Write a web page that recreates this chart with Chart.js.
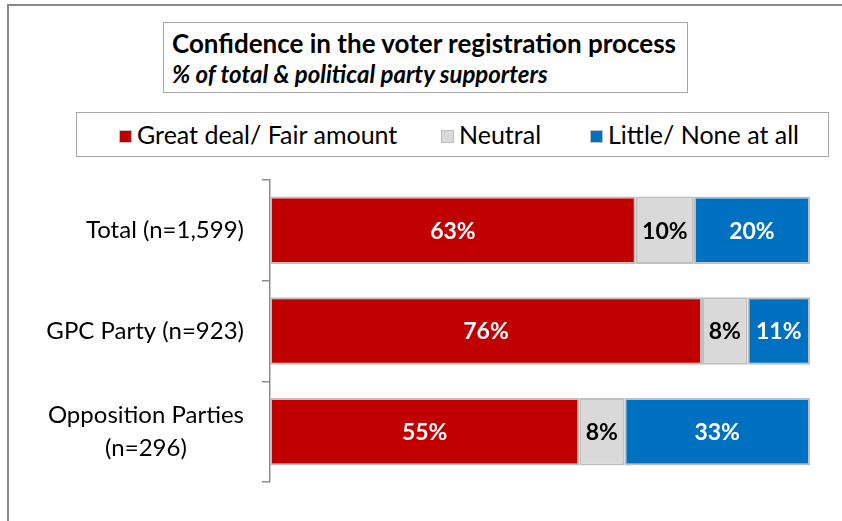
<!DOCTYPE html>
<html>
<head>
<meta charset="utf-8">
<script src="https://cdn.jsdelivr.net/npm/chart.js@4.4.0/dist/chart.umd.min.js"></script>
<style>
  body { margin: 0; background: #fff; font-family: Lato, sans-serif; }
  #wrap { position: relative; width: 842px; height: 521px; overflow: hidden; }
  #frame { position: absolute; left: 7px; top: 4px; width: 900px; height: 600px;
           border-left: 2px solid #888; border-top: 2px solid #888; }
  #titleBox { position: absolute; left: 163px; top: 22px; width: 525px; height: 71px;
              border: 1.5px solid #a6a6a6; box-sizing: border-box; padding: 5px 0 0 8px; }
  #titleBox .t { font-weight: bold; font-size: 26px; line-height: 31px; color: #000; white-space: nowrap; }
  #titleBox .s { font-weight: bold; font-style: italic; font-size: 24px; line-height: 30px; color: #000; white-space: nowrap; }
  #legendBox { position: absolute; left: 76px; top: 112px; width: 753px; height: 45px;
               border: 1.5px solid #a6a6a6; box-sizing: border-box; }
  #legendBox .item { position: absolute; top: 7px; font-size: 25px; line-height: 28px; color: #000; white-space: nowrap; }
  #legendBox .sw { display: inline-block; width: 11px; height: 11px; border: 1px solid #bfbfbf;
                   margin-right: 5px; vertical-align: 1px; }
  canvas { position: absolute; left: 0; top: 0; }
</style>
</head>
<body>
<div id="wrap">
  <div id="frame"></div>
  <div id="titleBox">
    <div class="t">Confidence in the voter registration process</div>
    <div class="s">% of total &amp; political party supporters</div>
  </div>
  <div id="legendBox"></div>
  <canvas id="myChart" width="842" height="521"></canvas>
</div>
<script>
var categories = [["Total (n=1,599)"], ["GPC Party (n=923)"], ["Opposition Parties", "(n=296)"]];
var seriesNames = ["Great deal/ Fair amount", "Neutral", "Little/ None at all"];
var greatDeal = [63, 76, 55];
var neutral = [10, 8, 8];
var little = [20, 11, 33];

var colors = ['#C00000', '#D9D9D9', '#0070C0'];
var labelColors = ['#ffffff', '#000000', '#ffffff'];
var rawSeries = [greatDeal, neutral, little];

// each bar is stretched to the full width (100% stacked)
function share(values) {
  return values.map(function (v, i) {
    var sum = greatDeal[i] + neutral[i] + little[i];
    return v / sum * 100;
  });
}

// html legend
var legendX = [42, 364, 513];
var lb = document.getElementById('legendBox');
seriesNames.forEach(function (name, i) {
  var d = document.createElement('div');
  d.className = 'item';
  d.style.left = legendX[i] + 'px';
  d.innerHTML = '<span class="sw" style="background:' + colors[i] + '"></span>' + name;
  lb.appendChild(d);
});

var barLabels = {
  id: 'barLabels',
  afterDatasetsDraw: function (chart) {
    var ctx = chart.ctx;
    ctx.save();
    ctx.font = 'bold 23px Lato';
    ctx.textAlign = 'center';
    ctx.textBaseline = 'middle';
    chart.data.datasets.forEach(function (ds, di) {
      chart.getDatasetMeta(di).data.forEach(function (bar, i) {
        var p = bar.getProps(['x', 'y', 'base'], true);
        ctx.fillStyle = labelColors[di];
        ctx.fillText(rawSeries[di][i] + '%', (p.x + p.base) / 2, p.y + 1);
      });
    });
    ctx.restore();
  }
};

var catLabels = {
  id: 'catLabels',
  afterDraw: function (chart) {
    var ctx = chart.ctx;
    var yScale = chart.scales.y;
    ctx.save();
    ctx.font = '24px Lato';
    ctx.fillStyle = '#000';
    ctx.textAlign = 'center';
    ctx.textBaseline = 'middle';
    var right = 244;
    var lh = 33;
    categories.forEach(function (lines, i) {
      var w = Math.max.apply(null, lines.map(function (l) { return ctx.measureText(l).width; }));
      var cx = right - w / 2;
      var y0 = yScale.getPixelForTick(i) - (lines.length - 1) * lh / 2;
      lines.forEach(function (l, k) {
        ctx.fillText(l, cx, y0 + k * lh);
      });
    });
    ctx.restore();
  }
};

var ctx = document.getElementById('myChart');
var myChart = new Chart(ctx, {
  type: 'bar',
  data: {
    labels: categories,
    datasets: seriesNames.map(function (name, i) {
      return {
        label: name,
        data: share(rawSeries[i]),
        backgroundColor: colors[i],
        borderColor: '#bfbfbf',
        borderWidth: 2,
        borderSkipped: false,
        barPercentage: 0.67,
        categoryPercentage: 1
      };
    })
  },
  options: {
    indexAxis: 'y',
    responsive: false,
    animation: false,
    layout: { padding: { top: 180, bottom: 39, right: 32, left: 0 } },
    plugins: { legend: { display: false }, title: { display: false }, tooltip: { enabled: false } },
    scales: {
      x: { stacked: true, min: 0, max: 100, display: false },
      y: {
        stacked: true,
        afterFit: function (scale) { scale.width = 270; },
        ticks: { display: false },
        border: { display: true, color: '#8c8c8c', width: 1.5 },
        grid: { offset: true, drawOnChartArea: false, tickLength: 8, color: '#8c8c8c', lineWidth: 1.5 }
      }
    }
  },
  plugins: [barLabels, catLabels]
});
</script>
</body>
</html>
